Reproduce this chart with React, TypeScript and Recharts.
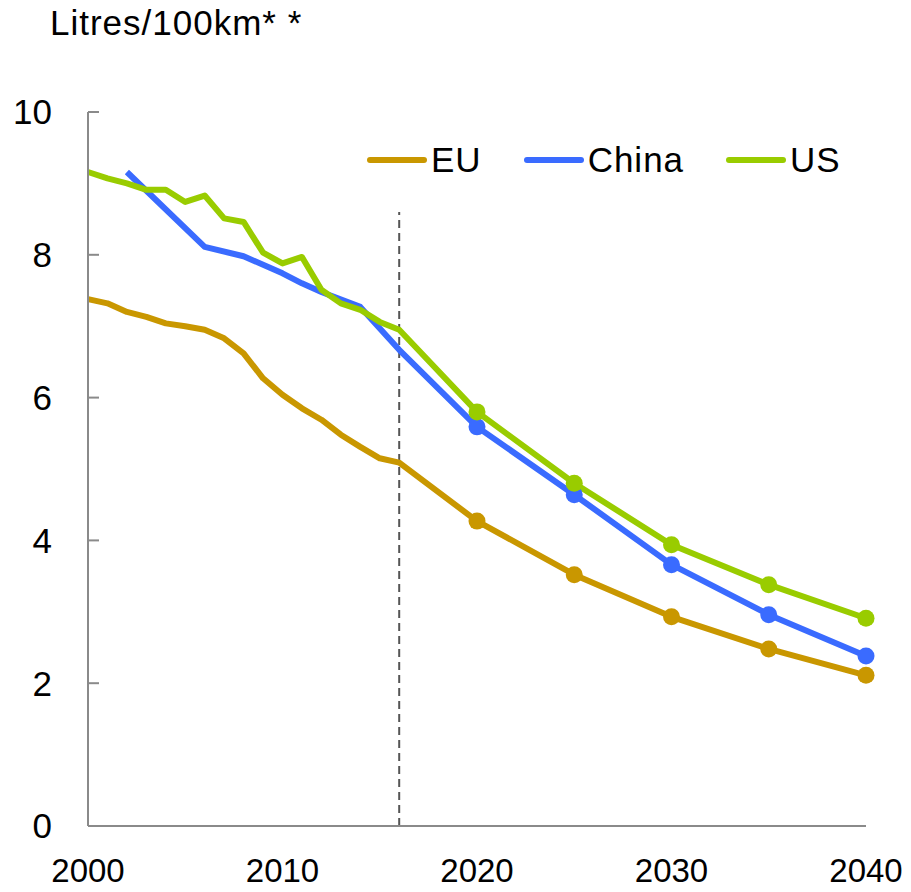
import React from "react";
import {
  LineChart,
  Line,
  XAxis,
  YAxis,
  ReferenceLine,
  Legend,
} from "recharts";

const years = [
  2000, 2001, 2002, 2003, 2004, 2005, 2006, 2007, 2008, 2009, 2010, 2011, 2012, 2013, 2014, 2015, 2016,
  2020, 2025, 2030, 2035, 2040,
];
const eu = [
  7.38, 7.32, 7.2, 7.13, 7.04, 7.0, 6.95, 6.83, 6.62, 6.27, 6.04, 5.85, 5.69, 5.48, 5.31, 5.15, 5.09,
  4.27, 3.52, 2.93, 2.48, 2.11,
];
const china = [
  null, null, 9.16, null, null, null, 8.11, null, 7.98, null, 7.74, 7.6, 7.48, null, 7.27, null, 6.67,
  5.59, 4.64, 3.66, 2.96, 2.38,
];
const us = [
  9.16, 9.07, 9.0, 8.91, 8.91, 8.74, 8.83, 8.51, 8.46, 8.03, 7.88, 7.97, 7.51, 7.32, 7.23, 7.06, 6.95,
  5.8, 4.8, 3.94, 3.38, 2.91,
];
const xTicks = [2000, 2010, 2020, 2030, 2040];
const yTicks = [0, 2, 4, 6, 8, 10];
const forecastFrom = 2020;
const dividerYear = 2016;

const series = [
  { key: "eu", name: "EU", color: "#C99700" },
  { key: "china", name: "China", color: "#3A6BFF" },
  { key: "us", name: "US", color: "#99CC00" },
];

const data = years.map((year, i) => ({ year, eu: eu[i], china: china[i], us: us[i] }));

const FONT = "'Liberation Sans', Arial, sans-serif";
const AXIS = "#8a8a8a";

const makeDot = (color: string) => (props: any) => {
  const { cx, cy, payload, index } = props;
  if (payload.year < forecastFrom || cy == null) return <g key={index} />;
  return <circle key={index} cx={cx} cy={cy} r={8.5} fill={color} stroke="none" />;
};

const LegendContent = () => (
  <div style={{ display: "flex", alignItems: "center", fontFamily: FONT, fontSize: 35, color: "#000" }}>
    {series.map((s, i) => (
      <div key={s.key} style={{ display: "flex", alignItems: "center", marginLeft: i === 0 ? 0 : 42 }}>
        <svg width={60} height={10} style={{ marginRight: 4 }}>
          <line x1={3} y1={5} x2={57} y2={5} stroke={s.color} strokeWidth={6} strokeLinecap="round" />
        </svg>
        <span style={{ letterSpacing: 1 }}>{s.name}</span>
      </div>
    ))}
  </div>
);

export default function App() {
  return (
    <div style={{ position: "absolute", left: 0, top: 0 }}>
      <LineChart
        width={911}
        height={892}
        data={data}
        margin={{ top: 112, right: 45, bottom: 0, left: 0 }}
        style={{ fontFamily: FONT }}
      >
        <XAxis
          dataKey="year"
          type="number"
          domain={[2000, 2040]}
          ticks={xTicks}
          height={66}
          tickLine={false}
          tickSize={0}
          tickMargin={33}
          axisLine={{ stroke: AXIS, strokeWidth: 2 }}
          tick={{ fill: "#000", fontSize: 33, fontFamily: FONT }}
        />
        <YAxis
          type="number"
          domain={[0, 10]}
          ticks={yTicks}
          width={88}
          tickSize={-11}
          tickMargin={47}
          axisLine={{ stroke: AXIS, strokeWidth: 2 }}
          tickLine={{ stroke: AXIS, strokeWidth: 2 }}
          tick={{ fill: "#000", fontSize: 35, fontFamily: FONT }}
          label={{
            content: () => (
              <text x={50} y={35} fontSize={35} fontFamily={FONT} fill="#000" letterSpacing={1}>
                Litres/100km* *
              </text>
            ),
          }}
        />
        <ReferenceLine
          segment={[
            { x: dividerYear, y: 0 },
            { x: dividerYear, y: 8.6 },
          ]}
          stroke="#555"
          strokeWidth={2}
          strokeDasharray="8 5"
        />
        <Legend
          layout="horizontal"
          verticalAlign="middle"
          align="center"
          content={<LegendContent />}
          wrapperStyle={{ position: "absolute", top: 140, left: 367, width: "auto" }}
        />
        {series.map((s) => (
          <Line
            key={s.key}
            dataKey={s.key}
            name={s.name}
            stroke={s.color}
            strokeWidth={6}
            strokeLinejoin="round"
            type="linear"
            connectNulls
            dot={makeDot(s.color)}
            activeDot={false}
            isAnimationActive={false}
          />
        ))}
      </LineChart>
    </div>
  );
}
